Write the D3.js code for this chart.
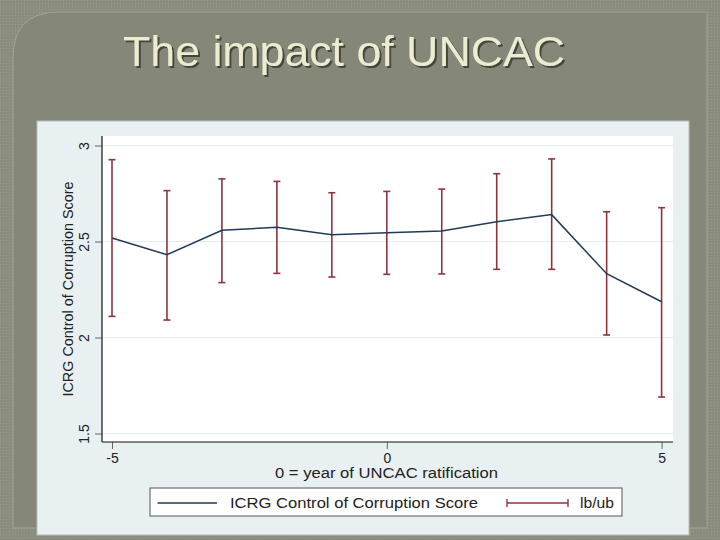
<!DOCTYPE html>
<html>
<head>
<meta charset="utf-8">
<script src="https://cdn.jsdelivr.net/npm/d3@7"></script>
<style>
  html, body { margin: 0; padding: 0; background: #85877a; }
  svg { display: block; font-family: Arial, "Liberation Sans", sans-serif; }
</style>
</head>
<body>
<svg width="720" height="540"></svg>
<script>
// data
var years = [-5, -4, -3, -2, -1, 0, 1, 2, 3, 4, 5]
var score = [2.518, 2.431, 2.558, 2.574, 2.535, 2.546, 2.555, 2.603, 2.640, 2.332, 2.186]
var lower = [2.110, 2.091, 2.286, 2.334, 2.315, 2.329, 2.331, 2.355, 2.355, 2.013, 1.690]
var upper = [2.926, 2.765, 2.826, 2.813, 2.754, 2.761, 2.773, 2.853, 2.930, 2.655, 2.676]
var xTicks = [-5, 0, 5]
var yTicks = [1.5, 2, 2.5, 3]
var yTickLabels = ['1.5', '2', '2.5', '3']

var navy = '#1f3b55',
    maroon = '#8e343d'

var svg = d3.select('svg')
var defs = svg.append('defs')

// slide background
svg.append('rect').attr('width', 720).attr('height', 540).attr('fill', '#8a8c7d')

var pat = defs.append('pattern')
              .attr('id', 'dots').attr('width', 3).attr('height', 3)
              .attr('patternUnits', 'userSpaceOnUse')
pat.append('rect').attr('width', 3).attr('height', 3).attr('fill', '#8a8c7d')
pat.append('rect').attr('width', 1).attr('height', 1).attr('fill', '#9a9c8c')
svg.append('rect').attr('width', 720).attr('height', 540).attr('fill', 'url(#dots)')

svg.append('path')
   .attr('d', 'M13,528 L13,58 Q13,12 59,12 L707,12 L707,528 Z')
   .attr('fill', '#858779')
   .attr('stroke', '#a3a593')
   .attr('stroke-width', 1)

// title, shadow done with a filter
defs.append('filter')
    .attr('id', 'shadow')
    .append('feDropShadow')
    .attr('dx', 2).attr('dy', 2).attr('stdDeviation', 0.4)
    .attr('flood-color', '#3c3d34').attr('flood-opacity', 0.9)

svg.append('text')
   .attr('x', 123).attr('y', 66)
   .attr('font-size', 42)
   .attr('textLength', 442)
   .attr('lengthAdjust', 'spacingAndGlyphs')
   .attr('fill', '#ececd0')
   .attr('filter', 'url(#shadow)')
   .text('The impact of UNCAC')

// chart panel
svg.append('rect')
   .attr('x', 37).attr('y', 121).attr('width', 652).attr('height', 414)
   .attr('fill', '#e9f0f2')
   .attr('stroke', '#b8bdb8').attr('stroke-width', 1)

var plotL = 102, plotR = 673, plotT = 136, plotB = 442

svg.append('rect')
   .attr('x', plotL).attr('y', plotT)
   .attr('width', plotR - plotL).attr('height', plotB - plotT)
   .attr('fill', '#ffffff')

var xScale = d3.scaleLinear().domain([-5, 5]).range([112, 661.6])
var yScale = d3.scaleLinear().domain([1.5, 3]).range([433.5, 145.5])

// gridlines
svg.selectAll('.grid')
   .data(yTicks)
   .enter()
   .append('line')
   .attr('class', 'grid')
   .attr('x1', plotL).attr('x2', plotR)
   .attr('y1', d => yScale(d)).attr('y2', d => yScale(d))
   .attr('stroke', '#e4eef0').attr('stroke-width', 1.2)

// axes
var yAxis = svg.append('g')
   .attr('transform', `translate(${plotL},0)`)
   .call(d3.axisLeft(yScale).tickValues(yTicks).tickSize(7).tickPadding(0).tickFormat((d, i) => yTickLabels[i]))
yAxis.select('.domain').remove()
yAxis.selectAll('.tick line').attr('stroke', '#666')
yAxis.selectAll('.tick text')
     .attr('x', 0).attr('y', 0).attr('dy', null)
     .attr('transform', 'translate(-13,0) rotate(-90)')
     .attr('text-anchor', 'middle')
     .attr('font-size', 14)
     .attr('fill', '#222')

var xAxis = svg.append('g')
   .attr('transform', `translate(0,${plotB})`)
   .call(d3.axisBottom(xScale).tickValues(xTicks).tickSize(7).tickPadding(0).tickFormat(d => String(d)))
xAxis.select('.domain').remove()
xAxis.selectAll('.tick line').attr('stroke', '#666')
xAxis.selectAll('.tick text')
     .attr('y', 20.5).attr('dy', null)
     .attr('font-size', 14)
     .attr('fill', '#222')

svg.append('line')
   .attr('x1', plotL).attr('x2', plotL).attr('y1', plotT).attr('y2', plotB)
   .attr('stroke', '#111').attr('stroke-width', 1.2)
svg.append('line')
   .attr('x1', plotL).attr('x2', plotR).attr('y1', plotB).attr('y2', plotB)
   .attr('stroke', '#111').attr('stroke-width', 1.2)

// axis titles
svg.append('text')
   .attr('transform', `translate(73,${(plotT + plotB) / 2}) rotate(-90)`)
   .attr('text-anchor', 'middle')
   .attr('font-size', 14.4)
   .attr('fill', '#222')
   .text('ICRG Control of Corruption Score')

svg.append('text')
   .attr('x', 275).attr('y', 478)
   .attr('font-size', 14)
   .attr('textLength', 223)
   .attr('lengthAdjust', 'spacingAndGlyphs')
   .attr('fill', '#222')
   .text('0 = year of UNCAC ratification')

// error bars
var rows = years.map((d, i) => ({ x: d, y: score[i], lo: lower[i], hi: upper[i] }))
var cap = 3.5

var bars = svg.selectAll('.bar')
              .data(rows)
              .enter()
              .append('g')
              .attr('class', 'bar')
              .attr('stroke', maroon)
              .attr('stroke-width', 1.6)
bars.append('line')
    .attr('x1', d => xScale(d.x)).attr('x2', d => xScale(d.x))
    .attr('y1', d => yScale(d.hi)).attr('y2', d => yScale(d.lo))
bars.append('line')
    .attr('x1', d => xScale(d.x) - cap).attr('x2', d => xScale(d.x) + cap)
    .attr('y1', d => yScale(d.hi)).attr('y2', d => yScale(d.hi))
bars.append('line')
    .attr('x1', d => xScale(d.x) - cap).attr('x2', d => xScale(d.x) + cap)
    .attr('y1', d => yScale(d.lo)).attr('y2', d => yScale(d.lo))

// mean line
svg.append('path')
   .datum(rows)
   .attr('fill', 'none')
   .attr('stroke', navy)
   .attr('stroke-width', 1.5)
   .attr('d', d3.line().x(d => xScale(d.x)).y(d => yScale(d.y)))

// legend
var legend = svg.append('g')
legend.append('rect')
      .attr('x', 150).attr('y', 488).attr('width', 472).attr('height', 28)
      .attr('fill', '#ffffff').attr('stroke', '#555').attr('stroke-width', 1)
legend.append('line')
      .attr('x1', 157.5).attr('x2', 217).attr('y1', 503).attr('y2', 503)
      .attr('stroke', navy).attr('stroke-width', 1.5)
legend.append('text')
      .attr('x', 230).attr('y', 507.5)
      .attr('font-size', 14.5)
      .attr('textLength', 248)
      .attr('lengthAdjust', 'spacingAndGlyphs')
      .attr('fill', '#222')
      .text('ICRG Control of Corruption Score')

var lg = legend.append('g').attr('stroke', maroon).attr('stroke-width', 1.4)
lg.append('line').attr('x1', 507).attr('x2', 568).attr('y1', 503).attr('y2', 503)
lg.append('line').attr('x1', 507).attr('x2', 507).attr('y1', 499).attr('y2', 507)
lg.append('line').attr('x1', 568).attr('x2', 568).attr('y1', 499).attr('y2', 507)
legend.append('text')
      .attr('x', 580).attr('y', 507.5)
      .attr('font-size', 14.5)
      .attr('textLength', 34)
      .attr('lengthAdjust', 'spacingAndGlyphs')
      .attr('fill', '#222')
      .text('lb/ub')
</script>
</body>
</html>
